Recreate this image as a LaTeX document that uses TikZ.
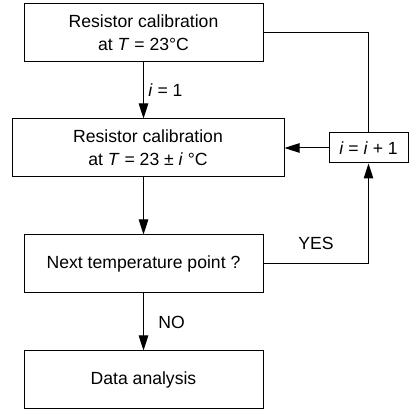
\documentclass[tikz,border=0pt]{standalone}
\usepackage{fontspec}
\setmainfont{Liberation Sans}
\usepackage{tikz}
\usetikzlibrary{
    arrows.meta,
    calc,
    positioning
}

\begin{document}
\begin{tikzpicture}[x=1pt, y=1pt,
    font=\fontsize{17.6}{23}\selectfont,
    procbox/.style={draw, line width=1pt, align=center, inner sep=0pt,
        minimum width=239pt, minimum height=58pt},
    conn/.style={line width=1pt},
    >={Triangle[length=15pt, width=9.5pt]}]
    \useasboundingbox (0, 0) rectangle (410, 414);
    \node[procbox] (calibA) at (143.5, 381) {Resistor calibration\\at \textit{T} = 23°C};
    \node[procbox, minimum width=272pt] (calibB) at (148, 266) {Resistor calibration\\at \textit{T} = 23 ± \textit{i} °C};
    \node[procbox] (nextpt) at (143.5, 150) {Next temperature point ?};
    \node[procbox] (analysis) at (143.5, 34) {Data analysis};
    \node[procbox, minimum width=79pt, minimum height=30pt] (incr) at (368.5, 266) {\textit{i} = \textit{i} + 1};
    \draw[conn, ->] (calibA.south) -- (calibA.south |- calibB.north)
        node[midway, right=1pt] {\textit{i} = 1};
    \draw[conn, ->] (calibB.south -| calibA.south) -- (nextpt.north);
    \draw[conn, ->] (nextpt.south) -- (analysis.north)
        node[midway, right=11pt] {NO};
    \draw[conn] (calibA.east) -| (incr.north);
    \draw[conn, ->] (nextpt.east) -| (incr.south)
        node[pos=0.25, above=10pt] {YES};
    \draw[conn, ->] (incr.west) -- (calibB.east |- incr.west);
\end{tikzpicture}
\end{document}
